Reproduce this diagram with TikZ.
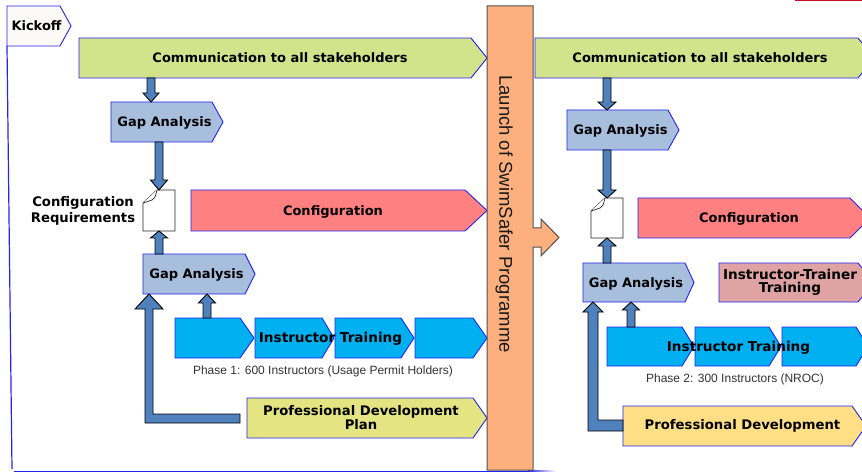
\documentclass[tikz,border=0pt]{standalone}
\usepackage{fontspec}
\setmainfont{DejaVu Sans}
\newfontfamily\arialf{Liberation Sans}
\usetikzlibrary{calc}
\definecolor{kblue}{HTML}{2424F2}
\definecolor{gafill}{HTML}{A7BEDD}
\definecolor{commfill}{HTML}{D3E38B}
\definecolor{conffill}{HTML}{FF8080}
\definecolor{itfill}{HTML}{00B0F0}
\definecolor{pdpfill}{HTML}{E4E482}
\definecolor{pdfill}{HTML}{FFDF86}
\definecolor{ittfill}{HTML}{DFA3A3}
\definecolor{orfill}{HTML}{FDB07E}
\definecolor{bargray}{HTML}{505050}
\definecolor{arrfill}{HTML}{4F81BD}
\definecolor{kickfill}{HTML}{FCFAF7}
\definecolor{redline}{HTML}{C8102E}
% chevron box: name, x1, y1, x body end, y2, x tip, fill
\newcommand\chevbox[7]{%
  \path[box,fill=#7] (#2,#3) -- (#4,#3) -- (#6,{(#3+#5)/2}) -- (#4,#5) -- (#2,#5) -- cycle;
  \node[inner sep=0pt, outer sep=0pt, minimum width={(#4-#2)*1pt}, minimum height={(#5-#3)*1pt}] (#1) at ({(#2+#4)/2},{(#3+#5)/2}) {};}
% block arrow: x, from anchor, to anchor, head length, shaft half width, head half width
\newcommand\blkarrow[6]{%
  \draw[blk] let \p1=(#2), \p2=(#3), \n1={sign(\y2-\y1)}, \n2={\y2-\n1*#4pt} in
   ({#1pt-#5pt},\y1) -- ({#1pt-#5pt},\n2) -- ({#1pt-#6pt},\n2) -- (#1pt,\y2)
   -- ({#1pt+#6pt},\n2) -- ({#1pt+#5pt},\n2) -- ({#1pt+#5pt},\y1) -- cycle;}
% document icon: name, x1, y1 (top left), height
\newcommand\docicon[4]{%
  \draw[fill=white, draw=black!85, line width=0.9pt] ({#2+14},#3) -- ({#2+32},#3) -- ({#2+32},{#3+#4}) -- (#2,{#3+#4}) -- (#2,{#3+13}) -- cycle;
  \draw[fill=white, draw=black!85, line width=0.7pt] (#2,{#3+13}) -- ({#2+9},{#3+10}) .. controls ({#2+12},{#3+8}) .. ({#2+14},#3);
  \node[inner sep=0pt, outer sep=0pt, minimum width=32pt, minimum height={#4*1pt}] (#1) at ({#2+16},{#3+#4/2}) {};}
\begin{document}
\begin{tikzpicture}[x=1pt,y=-1pt, line join=miter,
  box/.style={draw=kblue, line width=0.9pt},
  blk/.style={fill=arrfill, draw=black, line width=0.9pt},
  lbl/.style={font=\bfseries\fontsize{13}{15}\selectfont, inner sep=0pt, text height=9.5pt, text depth=0pt},
  lblit/.style={font=\bfseries\fontsize{13.6}{15}\selectfont, inner sep=0pt, text height=9.9pt, text depth=0pt},
  lblpd/.style={font=\bfseries\fontsize{13.2}{12.5}\selectfont, inner sep=0pt, align=center},
  lbltt/.style={font=\bfseries\fontsize{13.6}{13.2}\selectfont, inner sep=0pt, align=center},
  lblcr/.style={font=\bfseries\fontsize{13.2}{16}\selectfont, inner sep=0pt, align=center},
  small/.style={font=\arialf\fontsize{12}{14}\selectfont, text=black!80, inner sep=0pt, text height=8.6pt, text depth=0pt}]
\useasboundingbox (0,0) rectangle (862,473);
\clip (0,0) rectangle (862,473);
\fill[white] (0,0) rectangle (862,473);

% ---------- frame ----------
\chevbox{kick}{7}{6}{60}{46}{71}{kickfill}
\node[lbl] (kick-l) at (36.5,26) {Kickoff};
\draw[kblue, line width=1.2pt] (kick.south west) -- (12,469);
\draw[kblue, line width=1.3pt] (14,471.3) -- (528,471.3);
\shade[left color=kblue, right color=white] (528,470.65) rectangle (556,471.95);
\fill[redline] (795,0) rectangle (862,1.5);

% ---------- left phase ----------
\chevbox{comm1}{79}{38}{471}{78}{487}{commfill}
\node[lbl] (comm1-l) at (280,57.5) {Communication to all stakeholders};
\chevbox{ga1}{111}{102}{212}{142}{223}{gafill}
\node[lbl] (ga1-l) at (164.5,122) {Gap Analysis};
\docicon{doc1}{143}{190}{41}
\node[lblcr] (req-l) at (83,210.5) {Configuration\\Requirements};
\chevbox{conf1}{191}{190}{465}{231}{487}{conffill}
\node[lbl] (conf1-l) at (333,210.5) {Configuration};
\chevbox{ga2}{143}{254}{245}{294}{255}{gafill}
\node[lbl] (ga2-l) at (196.5,274) {Gap Analysis};
\chevbox{it1a}{175}{318}{240}{358}{254}{itfill}
\chevbox{it1b}{255}{318}{322}{358}{334}{itfill}
\chevbox{it1c}{335}{318}{401}{358}{414}{itfill}
\chevbox{it1d}{415}{318}{473}{358}{487}{itfill}
\node[lblit] (it1-l) at (330.5,338) {Instructor Training};
\node[small] (ph1) at (323,370.5) {Phase 1: 600 Instructors (Usage Permit Holders)};
\chevbox{pdp1}{247}{398}{473}{438}{487}{pdpfill}
\node[lblpd] (pdp1-l) at (361,417.5) {Professional Development\\Plan};

\blkarrow{151}{comm1.south}{ga1.north}{9}{4}{8}
\blkarrow{159}{ga1.south}{doc1.north}{10}{4}{8.5}
\blkarrow{159}{ga2.north}{doc1.south}{7}{4}{8.5}
\blkarrow{207}{it1a.north}{ga2.south}{9}{4}{8.5}
\draw[blk] let \p1=(pdp1.west), \p2=(ga2.south) in
  ({\x1-7pt},{\y1-5pt}) -- (145pt,{\y1-5pt}) -- (145pt,{\y2-15pt}) -- (135pt,{\y2-15pt}) -- (149pt,\y2)
  -- (163pt,{\y2-15pt}) -- (153pt,{\y2-15pt}) -- (153pt,{\y1+4pt}) -- ({\x1-7pt},{\y1+4pt}) -- cycle;

% ---------- launch bar ----------
\path[draw=bargray, fill=orfill, line width=1pt]
  (487,6) -- (533,6) -- (533,228) -- (541,228) -- (541,219) -- (559,237.5) -- (541,256)
  -- (541,247) -- (533,247) -- (533,470) -- (487,470) -- cycle;
\node[rotate=-90, font=\arialf\fontsize{18.5}{20}\selectfont, text=black!90, inner sep=0pt,
  text height=13.2pt, text depth=0pt] (launch) at (506,214) {Launch of SwimSafer Programme};

% ---------- right phase ----------
\chevbox{comm2}{535}{38}{858}{78}{874}{commfill}
\node[lbl] (comm2-l) at (700,57.5) {Communication to all stakeholders};
\chevbox{ga3}{567}{110}{668}{150}{679}{gafill}
\node[lbl] (ga3-l) at (620.5,130) {Gap Analysis};
\docicon{doc2}{591}{198}{40}
\chevbox{conf2}{638}{198}{850}{238}{870}{conffill}
\node[lbl] (conf2-l) at (749,218) {Configuration};
\chevbox{ga4}{583}{263}{685}{302}{694}{gafill}
\node[lbl] (ga4-l) at (636,282.5) {Gap Analysis};
\chevbox{itt}{719}{263}{858}{302}{874}{ittfill}
\node[lbltt] (itt-l) at (790,282) {Instructor-Trainer\\Training};
\chevbox{it2a}{607}{327}{682}{366}{694}{itfill}
\chevbox{it2b}{695}{327}{769}{366}{781}{itfill}
\chevbox{it2c}{782}{327}{856}{366}{868}{itfill}
\node[lblit] (it2-l) at (738.5,347) {Instructor Training};
\node[small] (ph2) at (735,378.5) {Phase 2: 300 Instructors (NROC)};
\chevbox{pd2}{623}{406}{852}{446}{866}{pdfill}
\node[lblpd] (pd2-l) at (742.5,426) {Professional Development};

\blkarrow{607}{comm2.south}{ga3.north}{8}{4}{9}
\blkarrow{607}{ga3.south}{doc2.north}{8}{4}{9}
\blkarrow{607}{ga4.north}{doc2.south}{8}{4}{9}
\blkarrow{631}{it2a.north}{ga4.south}{8}{4}{8.5}
\draw[blk] let \p1=(pd2.west), \p2=(ga4.south) in
  (\x1,{\y1-5pt}) -- (588pt,{\y1-5pt}) -- (588pt,{\y2-10pt}) -- (583pt,{\y2-10pt}) -- (593pt,\y2)
  -- (603pt,{\y2-10pt}) -- (598pt,{\y2-10pt}) -- (598pt,{\y1+6pt}) -- (\x1,{\y1+6pt}) -- cycle;
\end{tikzpicture}
\end{document}
